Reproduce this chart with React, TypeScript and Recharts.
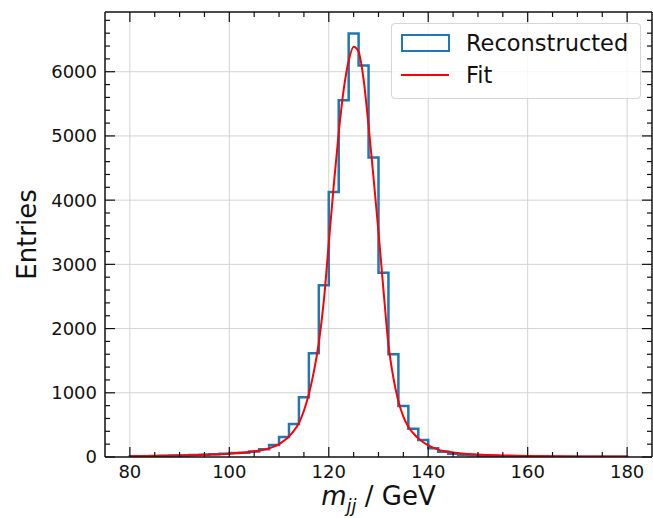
import React from 'react';
import { ComposedChart, Line, XAxis, YAxis, ReferenceLine, Label } from 'recharts';

// histogram: 2 GeV bins from 80 to 180
const binStart = 80;
const binWidth = 2;
const binCounts = [
  10, 12, 14, 18, 22, 25, 30, 36, 44, 52,
  62, 67, 85, 120, 185, 310, 512, 930, 1615, 2675,
  4125, 5555, 6595, 6095, 4665, 2870, 1600, 795, 440, 265,
  138, 83, 50, 35, 26, 20, 15, 12, 10, 8,
  7, 6, 5, 5, 4, 4, 3, 3, 3, 2,
];

// fit curve
const fitMass = [
  80, 84, 88, 92, 96, 100, 102, 104, 106, 108, 110, 111, 112, 113, 114, 115, 116, 117, 118, 119,
  120, 121, 122, 123, 124, 125, 126, 127, 128, 129, 130, 131, 132, 133, 134, 135, 136, 137, 138,
  140, 142, 145, 150, 155, 160, 170, 180,
];
const fitEntries = [
  12, 15, 20, 27, 37, 52, 63, 78, 100, 135, 200, 255, 320, 410, 530, 720, 980, 1330, 1780, 2430,
  3330, 4230, 5050, 5720, 6170, 6390, 6310, 5880, 5160, 4350, 3500, 2600, 1750, 1230, 870, 630, 470, 370, 290,
  180, 115, 70, 38, 24, 16, 9, 6,
];

const xMajorTicks = [80, 100, 120, 140, 160, 180];
const xAllTicks = [80, 85, 90, 95, 100, 105, 110, 115, 120, 125, 130, 135, 140, 145, 150, 155, 160, 165, 170, 175, 180];
const yMajorTicks = [0, 1000, 2000, 3000, 4000, 5000, 6000];
const yAllTicks = [
  0, 200, 400, 600, 800, 1000, 1200, 1400, 1600, 1800, 2000, 2200, 2400, 2600, 2800, 3000, 3200, 3400,
  3600, 3800, 4000, 4200, 4400, 4600, 4800, 5000, 5200, 5400, 5600, 5800, 6000, 6200, 6400, 6600, 6800,
];

const histData = [
  { x: binStart, y: 0 },
  ...binCounts.map((c, i) => ({ x: binStart + i * binWidth, y: c })),
  { x: binStart + binCounts.length * binWidth, y: binCounts[binCounts.length - 1] },
  { x: binStart + binCounts.length * binWidth, y: 0 },
];
const fitData = fitMass.map((m, i) => ({ x: m, y: fitEntries[i] }));

const FONT = '"DejaVu Sans", sans-serif';
const INK = '#111';
const MAJOR = 10;
const MINOR = 5;

const BottomTick = (props: any) => {
  const { x, y, payload } = props;
  const major = xMajorTicks.includes(payload.value);
  return (
    <g>
      <line x1={x} y1={y} x2={x} y2={y - (major ? MAJOR : MINOR)} stroke={INK} strokeWidth={1.2} />
      {major && (
        <text x={x} y={y + 21} textAnchor="middle" fontSize={18} fontFamily={FONT} fill={INK}>
          {payload.value}
        </text>
      )}
    </g>
  );
};

const TopTick = (props: any) => {
  const { x, y, payload } = props;
  const major = xMajorTicks.includes(payload.value);
  return <line x1={x} y1={y} x2={x} y2={y + (major ? MAJOR : MINOR)} stroke={INK} strokeWidth={1.2} />;
};

const LeftTick = (props: any) => {
  const { x, y, payload } = props;
  const major = yMajorTicks.includes(payload.value);
  return (
    <g>
      <line x1={x} y1={y} x2={x + (major ? MAJOR : MINOR)} y2={y} stroke={INK} strokeWidth={1.2} />
      {major && (
        <text x={x - 8} y={y} dy="0.36em" textAnchor="end" fontSize={18} fontFamily={FONT} fill={INK}>
          {payload.value}
        </text>
      )}
    </g>
  );
};

const RightTick = (props: any) => {
  const { x, y, payload } = props;
  const major = yMajorTicks.includes(payload.value);
  return <line x1={x} y1={y} x2={x - (major ? MAJOR : MINOR)} y2={y} stroke={INK} strokeWidth={1.2} />;
};

const XTitle = (props: any) => {
  const vb = props.viewBox;
  return (
    <text x={vb.x + vb.width / 2} y={vb.y + 48} textAnchor="middle" fontSize={26} fontFamily={FONT} fill={INK}>
      <tspan fontStyle="italic">m</tspan>
      <tspan fontStyle="italic" fontSize={18} dy={7}>jj</tspan>
      <tspan dy={-7}> / GeV</tspan>
    </text>
  );
};

const YTitle = (props: any) => {
  const vb = props.viewBox;
  const cy = vb.y + vb.height / 2;
  return (
    <text x={36} y={cy} transform={`rotate(-90, 36, ${cy})`} textAnchor="middle" fontSize={26} fontFamily={FONT} fill={INK}>
      Entries
    </text>
  );
};

const App: React.FC = () => {
  return (
    <div style={{ position: 'absolute', left: 0, top: 0, width: 653, height: 518, background: '#fff' }}>
      <ComposedChart width={653} height={518} margin={{ top: 11, right: 0, bottom: 0, left: 0 }}>
        <XAxis
          xAxisId="x"
          type="number"
          dataKey="x"
          domain={[75, 185]}
          ticks={xAllTicks}
          interval={0}
          height={61}
          tickSize={0}
          tickMargin={0}
          tickLine={false}
          tick={<BottomTick />}
          axisLine={{ stroke: INK, strokeWidth: 1.5 }}
          allowDataOverflow
        >
          <Label content={<XTitle />} />
        </XAxis>
        <XAxis
          xAxisId="xt"
          orientation="top"
          type="number"
          dataKey="x"
          domain={[75, 185]}
          ticks={xAllTicks}
          interval={0}
          height={1}
          tickSize={0}
          tickMargin={0}
          tickLine={false}
          tick={<TopTick />}
          axisLine={{ stroke: INK, strokeWidth: 1.5 }}
          allowDataOverflow
        />
        <YAxis
          yAxisId="y"
          type="number"
          domain={[0, 6930]}
          ticks={yAllTicks}
          interval={0}
          width={105}
          tickSize={0}
          tickMargin={0}
          tickLine={false}
          tick={<LeftTick />}
          axisLine={{ stroke: INK, strokeWidth: 1.5 }}
          allowDataOverflow
        >
          <Label content={<YTitle />} />
        </YAxis>
        <YAxis
          yAxisId="yr"
          orientation="right"
          type="number"
          domain={[0, 6930]}
          ticks={yAllTicks}
          interval={0}
          width={1}
          tickSize={0}
          tickMargin={0}
          tickLine={false}
          tick={<RightTick />}
          axisLine={{ stroke: INK, strokeWidth: 1.5 }}
          allowDataOverflow
        />

        {xMajorTicks.map((v) => (
          <ReferenceLine key={'gx' + v} xAxisId="x" yAxisId="y" x={v} stroke="#d3d3d3" strokeWidth={1} />
        ))}
        {yMajorTicks.slice(1).map((v) => (
          <ReferenceLine key={'gy' + v} xAxisId="x" yAxisId="y" y={v} stroke="#d3d3d3" strokeWidth={1} />
        ))}

        <Line
          xAxisId="x"
          yAxisId="y"
          data={histData}
          dataKey="y"
          type="stepAfter"
          stroke="#1f77b4"
          strokeWidth={2.5}
          dot={false}
          activeDot={false}
          isAnimationActive={false}
          name="Reconstructed"
        />
        <Line
          xAxisId="x"
          yAxisId="y"
          data={fitData}
          dataKey="y"
          type="monotone"
          stroke="#ff0000"
          strokeWidth={2}
          dot={false}
          activeDot={false}
          isAnimationActive={false}
          name="Fit"
        />
      </ComposedChart>

      {/* legend box, upper right */}
      <div
        style={{
          position: 'absolute',
          left: 391,
          top: 23,
          width: 248,
          height: 74,
          border: '1px solid #d6d6d6',
          borderRadius: 4,
          background: 'rgba(255,255,255,0.8)',
          fontFamily: FONT,
          fontSize: 22.5,
          color: INK,
        }}
      >
        <div style={{ position: 'absolute', left: 9, top: 10, width: 45, height: 14, border: '2.5px solid #1f77b4' }} />
        <div style={{ position: 'absolute', left: 74, top: 5, lineHeight: '28px' }}>Reconstructed</div>
        <div style={{ position: 'absolute', left: 9, top: 50, width: 48, height: 2, background: '#ff0000' }} />
        <div style={{ position: 'absolute', left: 74, top: 37, lineHeight: '28px' }}>Fit</div>
      </div>
    </div>
  );
};

export default App;
